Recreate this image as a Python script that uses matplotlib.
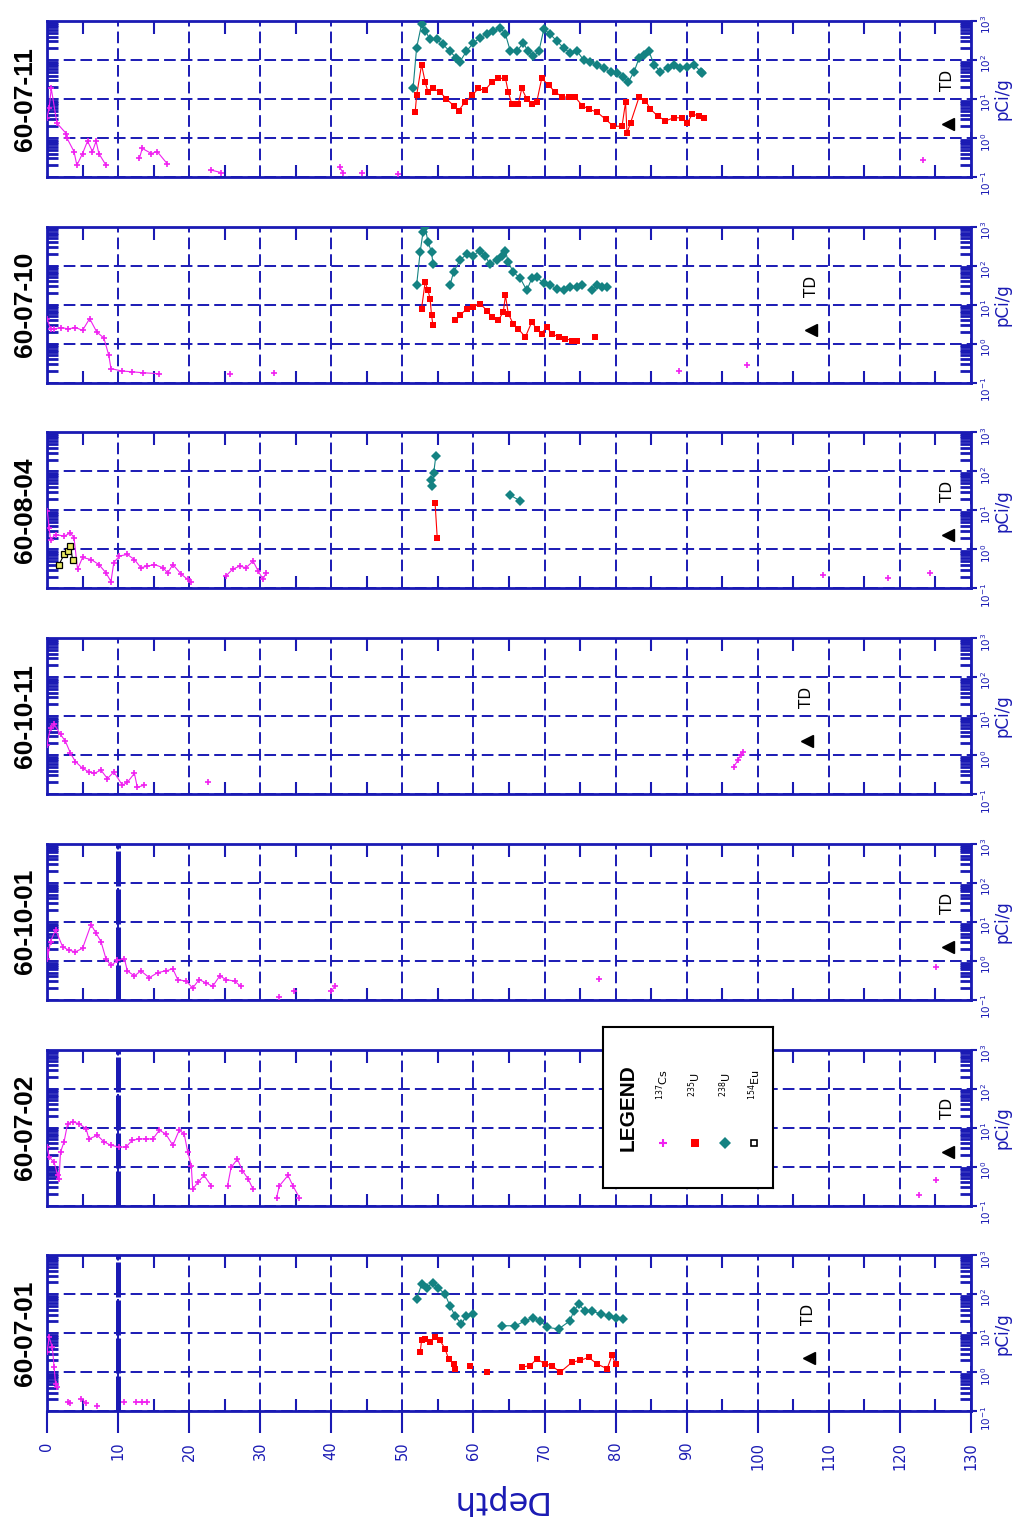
import numpy as np
import matplotlib
matplotlib.use("Agg")
import matplotlib.pyplot as plt
from matplotlib.ticker import FixedLocator, NullFormatter

BLUE = "#1a1ab4"
PINK = "#f020f0"
RED = "#ff0000"
TEAL = "#148282"

GAP = (np.nan, np.nan)

# wells, top to bottom
wells = ["60-07-11", "60-07-10", "60-08-04", "60-10-11", "60-10-01", "60-07-02", "60-07-01"]
td_depth = [126.7, 107.5, 126.7, 106.9, 126.7, 126.7, 107.2]
casing_depth = [None, None, None, None, 10.0, 10.0, 10.0]

# (depth ft, pCi/g)
cs137_6007_11 = [(0.0, 3.3), (0.3, 6.0), (0.6, 18.6), (1.4, 2.4), (2.7, 1.3), (2.8, 1.0), (3.8, 0.45),
                 (4.2, 0.2), (5.0, 0.4), (5.7, 0.83), (6.4, 0.45), (6.9, 0.83), (7.3, 0.4), (8.3, 0.2), GAP,
                 (13.0, 0.3), (13.4, 0.54), (14.7, 0.40), (15.5, 0.45), (16.9, 0.22), GAP,
                 (23.1, 0.15), (24.5, 0.13), GAP, (41.2, 0.18), (41.6, 0.13), GAP, (44.3, 0.13), GAP,
                 (49.4, 0.12), GAP, (123.3, 0.28)]
u238_6007_11 = [(51.5, 18.6), (52.0, 204), (52.7, 832), (53.2, 562), (53.9, 339), (54.8, 339), (55.7, 251),
                (56.7, 166), (57.6, 112), (58.1, 91), (59.0, 166), (60.0, 275), (60.9, 372), (61.9, 457),
                (62.8, 562), (63.8, 676), (64.5, 457), (65.2, 166), (66.1, 166), (67.0, 275), (67.7, 166),
                (68.4, 123), (69.2, 166), (69.9, 617), (70.8, 457), (71.7, 309), (72.7, 204), (73.6, 151),
                (74.6, 166), (75.5, 100), (76.4, 91), (77.4, 76), (78.3, 62), (79.3, 50), (80.2, 46),
                (81.1, 37), (81.8, 27.5), (82.6, 50), (83.3, 112), (84.0, 138), (84.7, 166), (85.4, 76),
                (86.3, 50), (87.3, 62), (88.2, 76), (89.1, 62), (90.1, 68), (91.0, 76), (92.0, 50), (92.2, 46)]
u235_6007_11 = [(51.8, 4.6), (52.0, 12.3), (52.7, 76), (53.2, 27.5), (53.6, 15.1), (54.3, 18.6), (55.3, 15.1),
                (56.2, 10), (57.2, 6.8), (57.9, 5.0), (58.8, 8.3), (59.8, 12.3), (60.7, 18.6), (61.6, 16.6),
                (62.6, 27.5), (63.5, 33.9), (64.5, 33.9), (64.9, 15.1), (65.4, 7.4), (66.3, 7.4), (66.8, 18.6),
                (67.5, 10), (68.2, 7.4), (68.9, 8.3), (69.6, 33.9), (70.6, 22.4), (71.5, 15.1), (72.5, 11.2),
                (73.4, 11.2), (74.3, 11.2), (75.3, 6.8), (76.2, 5.5), (77.4, 4.6), (78.6, 3.0), (79.7, 2.0),
                (80.9, 2.0), (81.4, 8.3), (81.6, 1.35), (82.1, 2.45), (83.3, 11.2), (84.2, 9.1), (84.9, 5.5),
                (85.9, 3.7), (87.0, 2.75), (88.2, 3.3), (89.4, 3.3), (90.1, 2.45), (90.8, 4.1), (91.7, 3.7),
                (92.4, 3.3)]

cs137_6007_10 = [(0.0, 4.4), (0.5, 2.4), (1.0, 2.4), (2.0, 2.6), (3.0, 2.4), (4.0, 2.6), (5.0, 2.2),
                 (6.0, 4.4), (7.0, 2.0), (8.0, 1.4), (8.7, 0.5), (9.0, 0.23), (10.5, 0.2), (12.0, 0.19),
                 (13.5, 0.18), (15.8, 0.17), GAP, (25.7, 0.17), GAP, (32.0, 0.18), GAP, (88.9, 0.2), GAP,
                 (98.5, 0.28)]
u238_6007_10 = [(52.0, 31.6), (52.5, 224), (52.9, 724), (53.2, 977), (53.6, 407), (54.1, 224), (54.3, 112), GAP,
                (56.7, 31.6), (57.2, 69), (58.1, 138), (59.1, 204), (60.0, 182), (60.9, 245), (61.6, 182),
                (62.3, 112), (63.3, 138), (64.0, 182), (64.5, 245), (64.9, 123), (65.6, 69), (66.6, 47),
                (67.5, 23.4), (68.2, 47), (68.9, 51), (69.9, 35), (70.8, 31.6), (71.7, 25.7), (72.7, 23.4),
                (73.6, 28.2), (74.6, 28.2), (75.3, 31.6), GAP, (76.7, 23.4), (77.4, 31.6), (78.1, 28.2),
                (78.8, 28.2)]
u235_6007_10 = [(52.7, 7.9), (53.2, 38), (53.6, 23.4), (53.9, 14.1), (54.1, 5.4), (54.3, 3.0), GAP,
                (57.4, 4.0), (58.1, 5.4), (59.1, 7.9), (60.0, 8.7), (60.9, 10.7), (61.9, 7.1), (62.6, 4.8),
                (63.5, 4.0), (64.2, 6.5), (64.5, 17.4), (64.9, 5.9), (65.6, 3.2), (66.3, 2.4), (67.3, 1.48),
                (68.2, 3.6), (68.9, 2.4), (69.6, 1.82), (70.3, 2.69), (71.0, 1.82), (72.0, 1.48), (72.9, 1.35),
                (73.9, 1.2), (74.6, 1.15), GAP, (77.1, 1.48)]

cs137_6008_04 = [(0.05, 9.5), (0.3, 3.55), (0.5, 1.78), (1.2, 2.4), (2.4, 2.19), (3.3, 2.63), (3.8, 2.0),
                 (4.3, 0.31), (5.0, 0.62), (6.2, 0.55), (7.3, 0.41), (8.3, 0.25), (9.0, 0.15), (9.4, 0.46),
                 (10.2, 0.68), (11.3, 0.74), (12.3, 0.55), (13.2, 0.34), (14.1, 0.37), (15.1, 0.41),
                 (16.3, 0.34), (17.0, 0.25), (17.7, 0.41), (18.9, 0.23), (19.8, 0.17), (20.3, 0.15), GAP,
                 (25.2, 0.21), (26.1, 0.31), (27.1, 0.37), (28.0, 0.34), (29.0, 0.50), (29.7, 0.28),
                 (30.4, 0.17), (30.8, 0.25), GAP, (109.2, 0.22), GAP, (118.3, 0.18), GAP, (124.3, 0.25)]
eu154_6008_04 = [(1.7, 0.41), (2.4, 0.74), (2.9, 0.91), (3.3, 1.2), (3.6, 0.55)]
u238_6008_04 = [(54.0, 60), (54.2, 41.7), (54.4, 89), (54.7, 245), GAP, (65.2, 24.5), (66.6, 17.4)]
u235_6008_04 = [(54.6, 15.5), (54.9, 2.0)]

cs137_6010_11 = [(0.0, 1.86), (0.5, 5.0), (1.0, 6.2), (1.9, 3.4), (2.6, 2.24), (3.3, 1.12), (4.0, 0.68),
                 (5.0, 0.46), (5.9, 0.37), (6.6, 0.34), (7.6, 0.41), (8.5, 0.25), (9.4, 0.37), (10.6, 0.17),
                 (11.3, 0.20), (12.3, 0.34), (12.7, 0.15), (13.7, 0.17), GAP, (22.6, 0.20), GAP,
                 (96.6, 0.49), (97.2, 0.74), (97.6, 1.0), (97.9, 1.2)]

cs137_6010_01 = [(0.0, 1.86), (0.05, 1.12), (0.5, 3.1), (1.2, 6.3), (2.2, 2.29), (3.1, 1.86), (4.0, 1.7),
                 (5.0, 2.09), (6.2, 8.5), (6.9, 5.1), (7.6, 3.1), (8.3, 1.12), (9.0, 0.76), (9.9, 1.02),
                 (10.9, 1.12), (11.3, 0.55), (12.3, 0.41), (13.2, 0.55), (14.4, 0.37), (15.6, 0.50),
                 (16.7, 0.55), (17.7, 0.62), (18.4, 0.33), (19.6, 0.30), (20.5, 0.20), (21.4, 0.33),
                 (22.4, 0.27), (23.3, 0.22), (24.3, 0.41), (25.2, 0.33), (26.4, 0.30), (27.3, 0.22), GAP,
                 (32.7, 0.12), GAP, (34.8, 0.17), GAP, (40.0, 0.17), (40.5, 0.22), GAP, (77.6, 0.34), GAP,
                 (125.1, 0.71)]

cs137_6007_02 = [(0.0, 3.16), (0.3, 1.74), (1.0, 1.29), (1.5, 0.59), (1.7, 0.48), (1.9, 2.34), (2.4, 4.3),
                 (2.9, 12.6), (3.6, 13.8), (4.5, 12.6), (5.5, 9.3), (5.9, 5.1), (7.1, 6.3), (8.0, 4.3),
                 (9.0, 3.5), (10.2, 3.16), (11.1, 3.16), (12.0, 4.7), (13.0, 5.1), (13.9, 5.1), (14.9, 5.1),
                 (15.8, 8.5), (16.7, 6.9), (17.7, 3.5), (18.6, 8.5), (19.3, 6.9), (19.8, 2.34), (20.3, 1.05),
                 (20.5, 0.26), (21.2, 0.39), (22.1, 0.59), (23.1, 0.32), GAP, (25.4, 0.32), (25.9, 0.95),
                 (26.8, 1.55), (27.5, 0.78), (28.3, 0.48), (29.0, 0.26), GAP, (32.3, 0.16), (32.7, 0.32),
                 (33.9, 0.59), (34.6, 0.32), (35.5, 0.16), GAP, (122.7, 0.19), GAP, (125.1, 0.46)]

cs137_6007_01 = [(0.0, 3.2), (0.3, 7.8), (0.75, 4.4), (1.0, 1.35), (1.2, 0.51), (1.45, 0.42), GAP,
                 (2.9, 0.17), (3.3, 0.16), GAP, (4.8, 0.21), (5.5, 0.16), GAP, (7.1, 0.14), GAP,
                 (10.9, 0.17), GAP, (12.5, 0.17), (13.4, 0.17), (14.1, 0.17)]
u238_6007_01 = [(52.0, 74), (52.7, 178), (53.4, 148), (54.3, 195), (55.0, 148), (56.0, 100), (56.7, 50),
                (57.4, 28.2), (58.3, 17), (59.0, 28.2), (60.0, 30.9), GAP, (64.0, 15.5), (65.9, 15.5),
                (67.3, 20.9), (68.4, 25.1), (69.4, 20.9), (70.3, 14.1), (72.0, 12.9), (73.6, 20.9),
                (74.1, 37.2), (74.8, 55), (75.7, 37.2), (76.7, 37.2), (77.9, 30.9), (79.0, 28.2),
                (80.0, 25.1), (81.1, 22.9)]
u235_6007_01 = [(52.5, 3.2), (52.7, 6.5), (53.2, 7.1), (53.9, 5.9), (54.6, 7.8), (55.3, 6.5), (56.0, 4.0),
                (56.5, 2.19), (57.2, 1.62), (57.4, 1.23), GAP, (59.5, 1.48), GAP, (61.9, 1.0), GAP,
                (66.8, 1.35), (68.0, 1.48), (68.9, 2.19), (70.1, 1.62), (71.0, 1.48), (72.2, 1.0),
                (73.9, 1.82), (75.0, 2.0), (76.2, 2.4), (77.4, 1.62), (78.8, 1.23), (79.5, 2.69), (80.0, 1.62)]

cs137_all = [cs137_6007_11, cs137_6007_10, cs137_6008_04, cs137_6010_11, cs137_6010_01, cs137_6007_02, cs137_6007_01]
u235_all = [u235_6007_11, u235_6007_10, u235_6008_04, [], [], [], u235_6007_01]
u238_all = [u238_6007_11, u238_6007_10, u238_6008_04, [], [], [], u238_6007_01]
eu154_all = [[], [], eu154_6008_04, [], [], [], []]

depth_ticks = list(range(0, 131, 10))
decades = [0.1, 1, 10, 100, 1000]
decade_labels = [r"$10^{-1}$", r"$10^{0}$", r"$10^{1}$", r"$10^{2}$", r"$10^{3}$"]

W, H = 1018, 1522
DASH = (0, (6, 2.6))


def plot_series(ax, data, **kw):
    if not data:
        return
    d = [p[0] for p in data]
    v = [p[1] for p in data]
    ax.plot(d, v, zorder=4, **kw)


def draw_well(ax, i):
    ax.set_yscale("log")
    ax.set_xlim(0, 130)
    ax.set_ylim(0.1, 1000)

    ax.grid(True, which="major", color=BLUE, lw=1.4, ls=DASH)
    if casing_depth[i] is not None:
        ax.axvline(casing_depth[i], color=BLUE, lw=3.6, ls=(0, (7, 0.6)), zorder=2)

    plot_series(ax, cs137_all[i], color=PINK, lw=0.8, marker="+", ms=5, mew=1.2)
    plot_series(ax, u235_all[i], color=RED, lw=0.8, marker="s", ms=5, mew=0)
    plot_series(ax, u238_all[i], color=TEAL, lw=0.8, marker="D", ms=4.6, mew=0)
    plot_series(ax, eu154_all[i], color="black", lw=0.8, marker="s", ms=4,
                mfc="#e8e860", mec="black", mew=0.9)

    # total depth marker
    ax.plot([td_depth[i]], [2.3], marker="<", color="black", ms=9, zorder=5)
    ax.text(td_depth[i], 30, "TD", rotation=90, ha="center", va="center", fontsize=11, color="black")

    for s in ax.spines.values():
        s.set_color(BLUE)
        s.set_linewidth(2)

    ax.xaxis.set_major_locator(FixedLocator(depth_ticks))
    ax.xaxis.set_minor_locator(FixedLocator([t + 5 for t in depth_ticks[:-1]]))
    ax.tick_params(axis="x", which="minor", top=True, bottom=True, direction="in",
                   length=9, width=1.5, color=BLUE)
    bottom = (i == len(wells) - 1)
    ax.tick_params(axis="x", which="major", top=False, bottom=bottom, direction="out",
                   length=16 if bottom else 0, width=1.5, color=BLUE,
                   labelbottom=bottom, labelrotation=90, labelsize=10.5, labelcolor=BLUE, pad=6)

    ax.yaxis.set_major_locator(FixedLocator(decades))
    ax.set_yticklabels(decade_labels)
    minors = [m * d for d in decades[:-1] for m in range(2, 10)]
    ax.yaxis.set_minor_locator(FixedLocator(minors))
    ax.yaxis.set_minor_formatter(NullFormatter())
    ax.tick_params(axis="y", which="minor", left=True, right=True, direction="in",
                   length=8, width=2, color=BLUE)
    ax.tick_params(axis="y", which="major", left=False, right=True, direction="out",
                   length=4, width=1.5, color=BLUE, labelleft=False, labelright=True,
                   labelsize=7.5, labelcolor=BLUE, labelrotation=90, pad=2)
    ax.yaxis.set_label_position("right")
    ax.set_ylabel("pCi/g", rotation=90, color=BLUE, fontsize=12, labelpad=0)


fig = plt.figure(figsize=(W / 100, H / 100), dpi=100)
left_px, right_px = 47, 971
for i, name in enumerate(wells):
    top_px = 21 + i * 205.7
    height_px = 156
    ax = fig.add_axes([left_px / W, 1 - (top_px + height_px) / H, (right_px - left_px) / W, height_px / H])
    draw_well(ax, i)
    fig.text(25 / W, 1 - (top_px + height_px / 2) / H, name, rotation=90, ha="center", va="center",
             fontsize=19, fontweight="bold", family="Liberation Sans", color="black")

fig.text(497 / W, 1 - 1500 / H, "Depth", rotation=180, ha="center", va="center", fontsize=23, color=BLUE)

# legend box
lg = fig.add_axes([603 / W, 1 - 1188 / H, 170 / W, 161 / H])
lg.set_xlim(0, 1)
lg.set_ylim(0, 1)
lg.set_xticks([])
lg.set_yticks([])
lg.set_facecolor("white")
for s in lg.spines.values():
    s.set_color("black")
    s.set_linewidth(1.5)
lg.text(0.15, 0.5, "LEGEND", rotation=90, ha="center", va="center", fontsize=15, fontweight="bold",
        family="Liberation Sans")
legend_items = [(r"$^{137}$Cs", dict(color=PINK, marker="+", ms=6, mew=1.5)),
                (r"$^{235}$U", dict(color=RED, marker="s", ms=6, mew=0)),
                (r"$^{238}$U", dict(color=TEAL, marker="D", ms=6, mew=0)),
                (r"$^{154}$Eu", dict(color="black", marker="s", ms=4, mfc="white", mew=1.2))]
for k, (label, style) in enumerate(legend_items):
    x = [0.35, 0.54, 0.72, 0.89][k]
    lg.plot([x], [0.28], ls="none", **style)
    lg.text(x, 0.64, label, rotation=90, ha="center", va="center", fontsize=8)

fig.savefig("out.png", dpi=100)
